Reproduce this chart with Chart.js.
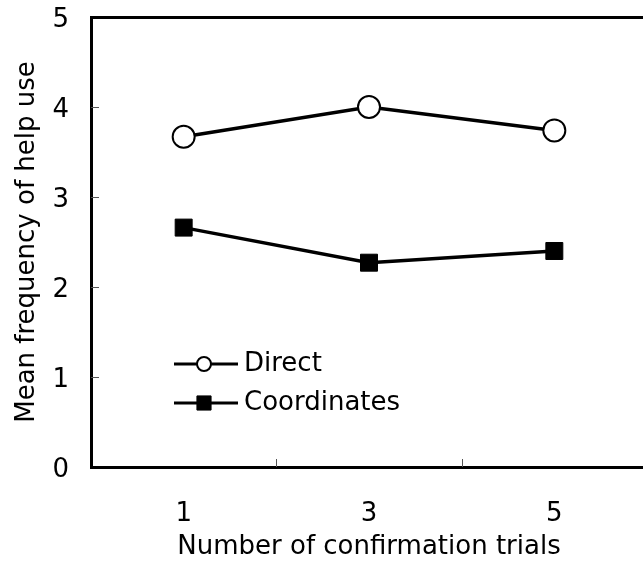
<!DOCTYPE html>
<html>
<head>
<meta charset="utf-8">
<script src="https://cdn.jsdelivr.net/npm/chart.js@4"></script>
<style>
  html, body { margin: 0; padding: 0; background: #fff; overflow: hidden; }
  canvas { display: block; }
</style>
</head>
<body>
<canvas id="chart" width="660" height="563"></canvas>
<script>
const trials = ['1', '3', '5'];
const directValues = [3.67, 4.0, 3.74];
const coordinateValues = [2.66, 2.27, 2.40];
const seriesNames = ['Direct', 'Coordinates'];
const yTickValues = [0, 1, 2, 3, 4, 5];

const FONT = 'DejaVu Sans';
const FONT_SIZE = 26;

// small inside tick marks + legend inside the plot
const insideTicks = {
  id: 'insideTicks',
  afterDraw(chart) {
    const ctx = chart.ctx;
    const area = chart.chartArea;
    const x = chart.scales.x;
    const y = chart.scales.y;
    ctx.save();
    ctx.strokeStyle = '#555';
    ctx.lineWidth = 1;
    ctx.beginPath();
    yTickValues.slice(1, -1).forEach(v => {
      const py = Math.round(y.getPixelForValue(v)) + 0.5;
      ctx.moveTo(area.left, py);
      ctx.lineTo(area.left + 8, py);
    });
    for (let i = 0; i < trials.length - 1; i++) {
      const px = Math.round((x.getPixelForValue(i) + x.getPixelForValue(i + 1)) / 2) + 0.5;
      ctx.moveTo(px, area.bottom);
      ctx.lineTo(px, area.bottom - 8);
    }
    ctx.stroke();

    // legend
    const lx = area.left + 83;
    const rows = [area.top + 347, area.top + 386];
    chart.data.datasets.forEach((ds, i) => {
      const ly = rows[i];
      ctx.strokeStyle = '#000';
      ctx.lineWidth = 3;
      ctx.beginPath();
      ctx.moveTo(lx, ly);
      ctx.lineTo(lx + 64, ly);
      ctx.stroke();
      ctx.fillStyle = ds.pointBackgroundColor;
      ctx.strokeStyle = '#000';
      ctx.lineWidth = ds.pointBorderWidth;
      Chart.helpers.drawPoint(ctx, {
        pointStyle: ds.pointStyle,
        radius: ds.pointStyle === 'rect' ? 10 : 7,
        borderWidth: ds.pointBorderWidth,
        rotation: 0
      }, lx + 30, ly);
      ctx.fillStyle = '#000';
      ctx.font = FONT_SIZE + 'px "' + FONT + '"';
      ctx.textAlign = 'left';
      ctx.textBaseline = 'middle';
      ctx.fillText(seriesNames[i], lx + 70, ly);
    });
    ctx.restore();
  }
};

function noPad(scale) {
  scale.paddingTop = 0;
  scale.paddingBottom = 0;
  scale.paddingLeft = 0;
  scale.paddingRight = 0;
}

new Chart(document.getElementById('chart'), {
  type: 'line',
  data: {
    labels: trials,
    datasets: [
      {
        label: seriesNames[0],
        data: directValues,
        borderColor: '#000',
        borderWidth: 3.5,
        pointStyle: 'circle',
        pointRadius: 11,
        pointBorderWidth: 2,
        pointBackgroundColor: '#fff',
        pointBorderColor: '#000',
        tension: 0
      },
      {
        label: seriesNames[1],
        data: coordinateValues,
        borderColor: '#000',
        borderWidth: 3.5,
        pointStyle: 'rect',
        pointRadius: 12,
        pointBorderWidth: 1,
        pointBackgroundColor: '#000',
        pointBorderColor: '#000',
        tension: 0
      }
    ]
  },
  options: {
    responsive: false,
    animation: false,
    layout: { padding: { top: 17, right: 8, left: 0, bottom: 0 } },
    plugins: {
      legend: { display: false },
      tooltip: { enabled: false }
    },
    scales: {
      x: {
        type: 'category',
        position: 'bottom',
        offset: true,
        grid: { display: false },
        border: { display: true, color: '#000', width: 3 },
        ticks: {
          color: '#000',
          font: { family: FONT, size: FONT_SIZE },
          padding: 24
        },
        title: {
          display: true,
          text: 'Number of confirmation trials',
          color: '#000',
          font: { family: FONT, size: FONT_SIZE },
          padding: { top: 0, bottom: 0 }
        },
        afterFit(scale) { scale.height = 96; noPad(scale); }
      },
      x2: {
        type: 'category',
        position: 'top',
        offset: true,
        grid: { display: false },
        border: { display: true, color: '#000', width: 3 },
        ticks: { display: false },
        afterFit(scale) { scale.height = 0; noPad(scale); }
      },
      y: {
        min: 0,
        max: 5,
        afterBuildTicks(scale) { scale.ticks = yTickValues.map(v => ({ value: v })); },
        grid: { display: false },
        border: { display: true, color: '#000', width: 3 },
        ticks: {
          color: '#000',
          font: { family: FONT, size: FONT_SIZE },
          padding: 14,
          labelOffset: 3
        },
        title: {
          display: true,
          text: 'Mean frequency of help use',
          color: '#000',
          font: { family: FONT, size: FONT_SIZE },
          padding: { top: 12, bottom: 0 }
        },
        afterFit(scale) { scale.width = 91; noPad(scale); }
      }
    }
  },
  plugins: [insideTicks]
});
</script>
</body>
</html>
